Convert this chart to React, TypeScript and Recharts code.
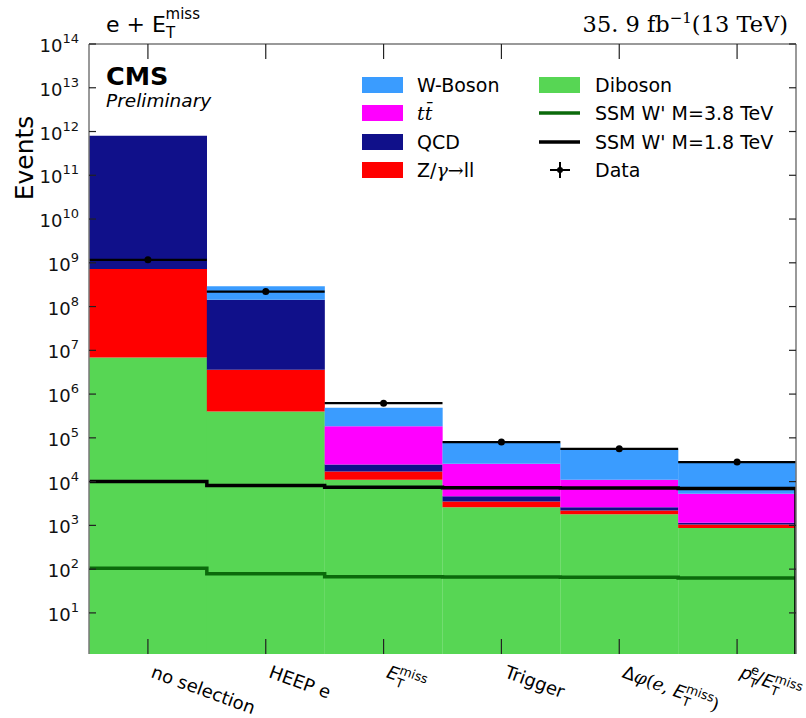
import React from 'react';
import {
  ComposedChart,
  Bar,
  Line,
  Scatter,
  XAxis,
  YAxis,
  ErrorBar,
  ReferenceLine,
} from 'recharts';

// Selection steps of the e + MET cutflow
const cuts = ['no selection', 'HEEP e', 'E_T^miss', 'Trigger', 'dphi', 'ratio'];

// Background yields per selection step (events, stacked bottom to top)
const diboson = [6.9e6, 4.0e5, 1.1e4, 2.6e3, 1.8e3, 870];
const zll = [7.13e8, 3.2e6, 6.0e3, 900, 400, 180];
const qcd = [7.99e11, 1.39e8, 7.5e3, 1.1e3, 400, 100];
const ttbar = [3.0e6, 8.0e5, 1.6e5, 2.1e4, 8.4e3, 4.15e3];
const wboson = [1.5e9, 1.46e8, 3.04e5, 5.1e4, 4.3e4, 2.17e4];

// Observed events
const observed = [1.17e9, 2.2e8, 6.2e5, 8.0e4, 5.6e4, 2.8e4];

// Signal expectations
const ssm18 = [1.0e4, 8.1e3, 7.4e3, 7.2e3, 7.1e3, 7.0e3];
const ssm38 = [105, 78, 67, 66, 65, 63];

const yTicks = [1e1, 1e2, 1e3, 1e4, 1e5, 1e6, 1e7, 1e8, 1e9, 1e10, 1e11, 1e12, 1e13, 1e14];

const Y_MIN = 1.15;
const Y_MAX = 1e14;

const COLORS = {
  wboson: '#3a9cff',
  ttbar: '#ff00ff',
  qcd: '#10108a',
  zll: '#ff0000',
  diboson: '#57d654',
  ssm38: '#0b6a0b',
  ssm18: '#000000',
};

const W = 806;
const H = 718;
const PLOT = { left: 89, right: 796, top: 44, bottom: 654 };
const SANS = '"DejaVu Sans", sans-serif';
const SERIF = '"DejaVu Serif", serif';

// stacked ranges [low, high] for each background per selection step
const rows = cuts.map((cut, i) => {
  const c1 = diboson[i];
  const c2 = c1 + zll[i];
  const c3 = c2 + qcd[i];
  const c4 = c3 + ttbar[i];
  const c5 = c4 + wboson[i];
  return {
    cut,
    dib: [Y_MIN, c1],
    zll: [c1, c2],
    qcd: [c2, c3],
    tt: [c3, c4],
    w: [c4, c5],
  };
});

// histogram-style step outline, dropping to the floor at the right edge
const stepRows = (vals: number[]) => [
  ...vals.map((v, i) => ({ x: i, v })),
  { x: vals.length, v: vals[vals.length - 1] },
  { x: vals.length, v: Y_MIN },
];

const dataRows = observed.map((v, i) => ({ x: i + 0.5, v, xerr: 0.5 }));

const barSeries = [
  { key: 'dib', color: COLORS.diboson },
  { key: 'zll', color: COLORS.zll },
  { key: 'qcd', color: COLORS.qcd },
  { key: 'tt', color: COLORS.ttbar },
  { key: 'w', color: COLORS.wboson },
];

const ETmiss = ({ size }: { size: number }) => (
  <>
    <tspan fontStyle="italic">E</tspan>
    <tspan fontSize={size * 0.7} dy={size * 0.3}>T</tspan>
    <tspan fontSize={size * 0.7} dx={-size * 0.43} dy={-size * 0.72}>miss</tspan>
  </>
);

const cutLabel = (name: string, size: number) => {
  switch (name) {
    case 'E_T^miss':
      return <ETmiss size={size} />;
    case 'dphi':
      return (
        <>
          <tspan>Δ</tspan>
          <tspan fontFamily={SERIF} fontStyle="italic">φ</tspan>
          <tspan fontFamily={SERIF}>(</tspan>
          <tspan fontFamily={SERIF} fontStyle="italic">e</tspan>
          <tspan fontFamily={SERIF}>, </tspan>
          <ETmiss size={size} />
          <tspan fontFamily={SERIF} dy={size * 0.42}>)</tspan>
        </>
      );
    case 'ratio':
      return (
        <>
          <tspan fontStyle="italic">p</tspan>
          <tspan fontSize={size * 0.7} dy={size * 0.3}>T</tspan>
          <tspan fontSize={size * 0.7} dx={-size * 0.43} dy={-size * 0.72}>e</tspan>
          <tspan dy={size * 0.42}>/</tspan>
          <ETmiss size={size} />
        </>
      );
    default:
      return name;
  }
};

const XTick = (props: any) => {
  const { x, payload } = props;
  return (
    <g>
      <line x1={x} x2={x} y1={PLOT.bottom} y2={PLOT.bottom - 15} stroke="#222" strokeWidth={1.2} />
      <line x1={x} x2={x} y1={PLOT.top} y2={PLOT.top + 15} stroke="#222" strokeWidth={1.2} />
      <text
        transform={`translate(${x + 2},${677}) rotate(20)`}
        fontFamily={SANS}
        fontSize={18}
        fill="#000"
      >
        {cutLabel(payload.value, 18)}
      </text>
    </g>
  );
};

const YTick = (props: any) => {
  const { y, payload } = props;
  const exp = Math.round(Math.log10(payload.value));
  return (
    <g>
      <line x1={PLOT.left} x2={PLOT.left + 7} y1={y} y2={y} stroke="#222" strokeWidth={1.2} />
      <line x1={PLOT.right - 7} x2={PLOT.right} y1={y} y2={y} stroke="#222" strokeWidth={1.2} />
      <text x={79} y={y + 8} textAnchor="end" fontFamily={SANS} fill="#111">
        <tspan fontSize={18}>10</tspan>
        <tspan fontSize={13} dy={-9}>{exp}</tspan>
      </text>
    </g>
  );
};

const DataDot = (p: any) => <circle cx={p.cx} cy={p.cy} r={3.5} fill="#000" />;

const legendLeft = [
  { label: 'W-Boson', color: COLORS.wboson },
  { label: 'tt', color: COLORS.ttbar },
  { label: 'QCD', color: COLORS.qcd },
  { label: 'Zll', color: COLORS.zll },
];

const legendRowY = [85, 113, 142, 170];
const LEGEND_FONT = 19;

const legendText = (label: string) => {
  if (label === 'tt')
    return (
      <tspan fontFamily={SERIF} fontStyle="italic">
        t{'t\u0304'}
      </tspan>
    );
  if (label === 'Zll')
    return (
      <>
        <tspan>Z/</tspan>
        <tspan fontFamily={SERIF} fontStyle="italic">γ</tspan>
        <tspan fontFamily={SERIF}>→</tspan>
        <tspan>ll</tspan>
      </>
    );
  return label;
};

const Overlay = () => (
  <svg
    width={W}
    height={H}
    style={{ position: 'absolute', left: 0, top: 0, pointerEvents: 'none' }}
  >
    {/* header texts */}
    <text x={106} y={32} fontFamily={SANS} fontSize={22} fill="#000">
      <tspan>e </tspan>
      <tspan fontFamily={SERIF}>+</tspan>
      <tspan> E</tspan>
      <tspan fontSize={15} dy={6}>T</tspan>
      <tspan fontSize={15} dx={-9.5} dy={-19}>miss</tspan>
    </text>
    <text x={788} y={32} textAnchor="end" fontFamily={SERIF} fontSize={22.5} fill="#000">
      <tspan>35. 9 fb</tspan>
      <tspan fontSize={15} dy={-9}>−1</tspan>
      <tspan dy={9}>(13 TeV)</tspan>
    </text>
    <text
      transform="translate(33,158) rotate(-90)"
      textAnchor="middle"
      fontFamily={SANS}
      fontSize={25}
      fill="#000"
    >
      Events
    </text>
    <text x={106} y={85} fontFamily={SANS} fontSize={25.5} fontWeight="bold" fill="#000">
      CMS
    </text>
    <text x={106} y={107} fontFamily={SANS} fontSize={18.5} fontStyle="italic" fill="#000">
      Preliminary
    </text>

    {/* legend, left column */}
    {legendLeft.map((e, i) => (
      <g key={e.label}>
        <rect x={362} y={legendRowY[i] - 8} width={41} height={16} fill={e.color} />
        <text x={417} y={legendRowY[i] + 7} fontFamily={SANS} fontSize={LEGEND_FONT} fill="#000">
          {legendText(e.label)}
        </text>
      </g>
    ))}

    {/* legend, right column */}
    <rect x={539} y={legendRowY[0] - 8} width={41} height={16} fill={COLORS.diboson} />
    <text x={595} y={legendRowY[0] + 7} fontFamily={SANS} fontSize={LEGEND_FONT} fill="#000">
      Diboson
    </text>
    <line x1={539} x2={580} y1={legendRowY[1]} y2={legendRowY[1]} stroke={COLORS.ssm38} strokeWidth={3.5} />
    <text x={595} y={legendRowY[1] + 7} fontFamily={SANS} fontSize={LEGEND_FONT} fill="#000">
      SSM W' M=3.8 TeV
    </text>
    <line x1={539} x2={580} y1={legendRowY[2]} y2={legendRowY[2]} stroke={COLORS.ssm18} strokeWidth={3.5} />
    <text x={595} y={legendRowY[2] + 7} fontFamily={SANS} fontSize={LEGEND_FONT} fill="#000">
      SSM W' M=1.8 TeV
    </text>
    <line x1={550} x2={570} y1={legendRowY[3]} y2={legendRowY[3]} stroke="#000" strokeWidth={2} />
    <line x1={560} x2={560} y1={legendRowY[3] - 8} y2={legendRowY[3] + 8} stroke="#000" strokeWidth={2} />
    <circle cx={560} cy={legendRowY[3]} r={3} fill="#000" />
    <text x={595} y={legendRowY[3] + 7} fontFamily={SANS} fontSize={LEGEND_FONT} fill="#000">
      Data
    </text>
  </svg>
);

export default function App() {
  return (
    <div
      style={{
        position: 'absolute',
        left: 0,
        top: 0,
        width: W,
        height: H,
        background: '#fff',
      }}
    >
      <ComposedChart
        width={W}
        height={H}
        data={rows}
        margin={{ top: PLOT.top, right: W - PLOT.right, bottom: 0, left: 0 }}
        barCategoryGap={0}
        barGap={0}
      >
        <XAxis
          xAxisId="cat"
          dataKey="cut"
          height={H - PLOT.bottom}
          interval={0}
          tickLine={false}
          axisLine={{ stroke: '#777', strokeWidth: 1.5 }}
          tick={<XTick />}
        />
        {barSeries.map((s) => (
          <XAxis key={s.key} xAxisId={`bar-${s.key}`} dataKey="cut" hide />
        ))}
        <XAxis
          xAxisId="num"
          type="number"
          dataKey="x"
          domain={[0, cuts.length]}
          allowDataOverflow
          hide
        />
        <YAxis
          yAxisId="left"
          dataKey="v"
          type="number"
          scale="log"
          domain={[Y_MIN, Y_MAX]}
          allowDataOverflow
          ticks={yTicks}
          interval={0}
          width={PLOT.left}
          tickLine={false}
          axisLine={{ stroke: '#777', strokeWidth: 1.5 }}
          tick={<YTick />}
        />

        {barSeries.map((s) => (
          <Bar
            key={s.key}
            xAxisId={`bar-${s.key}`}
            yAxisId="left"
            dataKey={s.key}
            fill={s.color}
            isAnimationActive={false}
          />
        ))}

        <Line
          data={stepRows(ssm38)}
          xAxisId="num"
          yAxisId="left"
          dataKey="v"
          type="stepAfter"
          stroke={COLORS.ssm38}
          strokeWidth={3.5}
          dot={false}
          activeDot={false}
          isAnimationActive={false}
        />
        <Line
          data={stepRows(ssm18)}
          xAxisId="num"
          yAxisId="left"
          dataKey="v"
          type="stepAfter"
          stroke={COLORS.ssm18}
          strokeWidth={3.5}
          dot={false}
          activeDot={false}
          isAnimationActive={false}
        />

        <Scatter
          data={dataRows}
          xAxisId="num"
          yAxisId="left"
          dataKey="v"
          shape={<DataDot />}
          isAnimationActive={false}
        >
          <ErrorBar dataKey="xerr" direction="x" width={0} stroke="#000" strokeWidth={2.2} />
        </Scatter>

        <ReferenceLine xAxisId="cat" yAxisId="left" y={Y_MAX} stroke="#777" strokeWidth={1.5} />
        <ReferenceLine xAxisId="num" yAxisId="left" x={cuts.length} stroke="#777" strokeWidth={1.5} />
      </ComposedChart>
      <Overlay />
    </div>
  );
}
